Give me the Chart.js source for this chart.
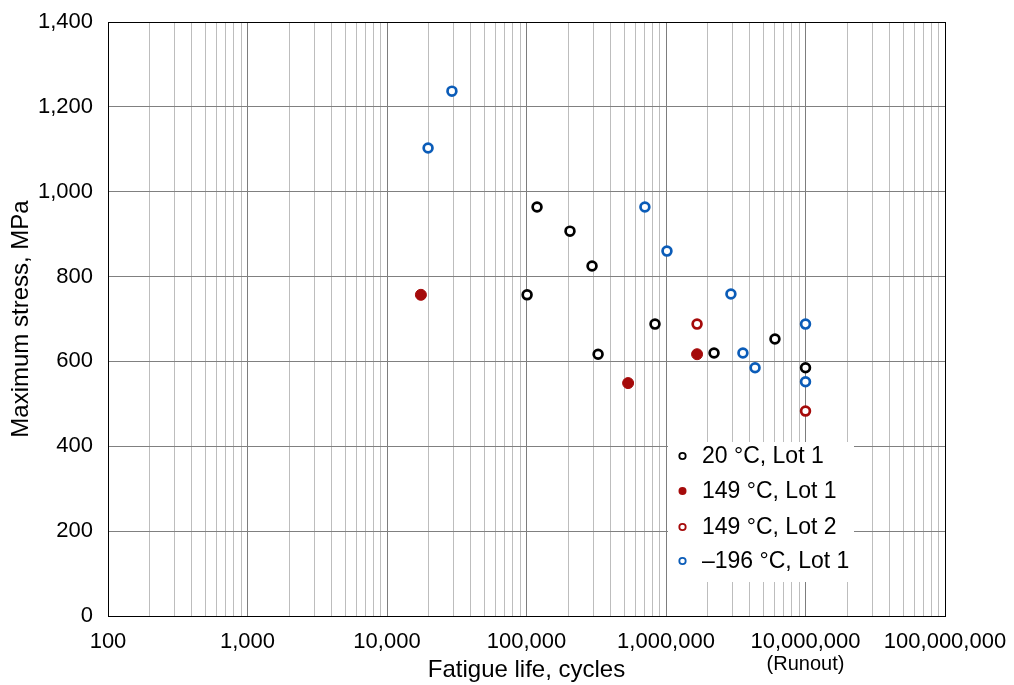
<!DOCTYPE html>
<html>
<head>
<meta charset="utf-8">
<script src="https://cdn.jsdelivr.net/npm/chart.js@4/dist/chart.umd.min.js"></script>
<style>
  html, body { margin: 0; padding: 0; background: #fff; }
  #wrap { width: 1014px; height: 685px; position: relative; }
</style>
</head>
<body>
<div id="wrap"><canvas id="c" width="1014" height="685"></canvas></div>
<script>
// ---- data ----
const cycles20C = [101000, 119000, 205000, 295000, 326000, 834000, 2210000, 6040000, 10000000];
const stress20C = [757, 964, 907, 825, 617, 688, 620, 653, 585];

const cycles149Lot1 = [17500, 535000, 1670000];
const stress149Lot1 = [757, 549, 617];

const cycles149Lot2 = [1670000, 10000000];
const stress149Lot2 = [688, 483];

const cyclesM196 = [19700, 29200, 706000, 1016000, 2920000, 3560000, 4350000, 10000000, 10000000];
const stressM196 = [1103, 1237, 964, 860, 759, 620, 585, 688, 552];

const seriesLabels = ['20 °C, Lot 1', '149 °C, Lot 1', '149 °C, Lot 2', '\u2013196 °C, Lot 1'];

const xDecades = [100, 1000, 10000, 100000, 1000000, 10000000, 100000000];
const xTickLabels = ['100', '1,000', '10,000', '100,000', '1,000,000', '10,000,000', '100,000,000'];
const yTicks = [0, 200, 400, 600, 800, 1000, 1200, 1400];
const yTickLabels = ['0', '200', '400', '600', '800', '1,000', '1,200', '1,400'];
const runoutCycles = 10000000;
const runoutLabel = '(Runout)';

const FONT = "'Liberation Sans', Arial, Helvetica, sans-serif";
const BLACK = '#000000';
const RED = '#a50a0a';
const BLUE = '#0b5cb8';

function pts(xs, ys) { return xs.map((x, i) => ({ x: x, y: ys[i] })); }

const datasets = [
  { label: seriesLabels[0], data: pts(cycles20C, stress20C), borderColor: BLACK, backgroundColor: '#ffffff', pointRadius: 4.4, pointBorderWidth: 2.7, legendFill: false },
  { label: seriesLabels[1], data: pts(cycles149Lot1, stress149Lot1), borderColor: RED, backgroundColor: RED, pointRadius: 5.5, pointBorderWidth: 1, legendFill: true },
  { label: seriesLabels[2], data: pts(cycles149Lot2, stress149Lot2), borderColor: RED, backgroundColor: '#ffffff', pointRadius: 4.4, pointBorderWidth: 2.7, legendFill: false },
  { label: seriesLabels[3], data: pts(cyclesM196, stressM196), borderColor: BLUE, backgroundColor: '#ffffff', pointRadius: 4.4, pointBorderWidth: 2.7, legendFill: false }
];
datasets.forEach(d => { d.showLine = false; d.pointHoverRadius = d.pointRadius; });

function isDecade(v) {
  const l = Math.log10(v);
  return Math.abs(l - Math.round(l)) < 1e-9;
}

const extrasPlugin = {
  id: 'extras',
  afterDraw(chart) {
    const { ctx, chartArea: a, scales } = chart;
    ctx.save();
    // frame
    ctx.strokeStyle = '#000';
    ctx.lineWidth = 1;
    ctx.strokeRect(Math.round(a.left) + 0.5, Math.round(a.top) + 0.5, Math.round(a.right - a.left), Math.round(a.bottom - a.top));
    // runout label
    ctx.fillStyle = '#000';
    ctx.font = '20px ' + FONT;
    ctx.textAlign = 'center';
    ctx.textBaseline = 'middle';
    ctx.fillText(runoutLabel, scales.x.getPixelForValue(runoutCycles), 664);
    // legend
    const lx = 668, ly = 442, lw = 186, lh = 140;
    ctx.fillStyle = '#ffffff';
    ctx.fillRect(lx, ly, lw, lh);
    const rowY = [456, 491, 527, 561];
    chart.data.datasets.forEach((d, i) => {
      const y = rowY[i];
      ctx.beginPath();
      ctx.arc(682.5, y, d.legendFill ? 4 : 3.2, 0, Math.PI * 2);
      if (d.legendFill) {
        ctx.fillStyle = d.backgroundColor;
        ctx.fill();
      } else {
        ctx.fillStyle = '#fff';
        ctx.fill();
        ctx.lineWidth = 1.8;
        ctx.strokeStyle = d.borderColor;
        ctx.stroke();
      }
      ctx.fillStyle = '#000';
      ctx.font = '23px ' + FONT;
      ctx.textAlign = 'left';
      ctx.textBaseline = 'middle';
      ctx.fillText(d.label, 702, y + 1);
    });
    ctx.restore();
  }
};

new Chart(document.getElementById('c'), {
  type: 'scatter',
  data: { datasets: datasets },
  plugins: [extrasPlugin],
  options: {
    responsive: false,
    animation: false,
    devicePixelRatio: 1,
    layout: { padding: { left: 0, right: 69, top: 22, bottom: 0 } },
    plugins: { legend: { display: false }, tooltip: { enabled: false } },
    scales: {
      x: {
        type: 'logarithmic',
        min: xDecades[0],
        max: xDecades[xDecades.length - 1],
        afterBuildTicks(scale) {
          const t = [];
          for (let i = 0; i < xDecades.length - 1; i++) {
            for (let m = 1; m <= 9; m++) t.push({ value: xDecades[i] * m });
          }
          t.push({ value: xDecades[xDecades.length - 1] });
          scale.ticks = t;
        },
        afterFit(scale) { scale.height = 69; scale.paddingLeft = 0; scale.paddingRight = 0; },
        ticks: {
          autoSkip: false, maxRotation: 0, minRotation: 0, padding: 13,
          color: '#000',
          font: { family: FONT, size: 22 },
          callback(value) {
            const i = xDecades.findIndex(d => Math.abs(d - value) / d < 1e-9);
            return i >= 0 ? xTickLabels[i] : '';
          }
        },
        grid: {
          drawTicks: false,
          color: ctx => (ctx.tick && isDecade(ctx.tick.value)) ? '#7d7d7d' : '#bdbdbd',
          lineWidth: 1
        },
        border: { display: true, color: '#000', width: 1 },
        title: {
          display: true, text: 'Fatigue life, cycles', color: '#000',
          font: { family: FONT, size: 24 }, padding: { top: 0, bottom: 0 }
        }
      },
      y: {
        type: 'linear',
        min: yTicks[0],
        max: yTicks[yTicks.length - 1],
        afterBuildTicks(scale) { scale.ticks = yTicks.map(v => ({ value: v })); },
        afterFit(scale) { scale.width = 108; scale.paddingTop = 0; scale.paddingBottom = 0; },
        ticks: {
          padding: 15, color: '#000',
          font: { family: FONT, size: 22 },
          callback(value) {
            const i = yTicks.indexOf(value);
            return i >= 0 ? yTickLabels[i] : '';
          }
        },
        grid: { drawTicks: false, color: '#808080', lineWidth: 1 },
        border: { display: true, color: '#000', width: 1 },
        title: {
          display: true, text: 'Maximum stress, MPa', color: '#000',
          font: { family: FONT, size: 24 }, padding: { top: 7, bottom: 0 }
        }
      }
    }
  }
});
</script>
</body>
</html>
